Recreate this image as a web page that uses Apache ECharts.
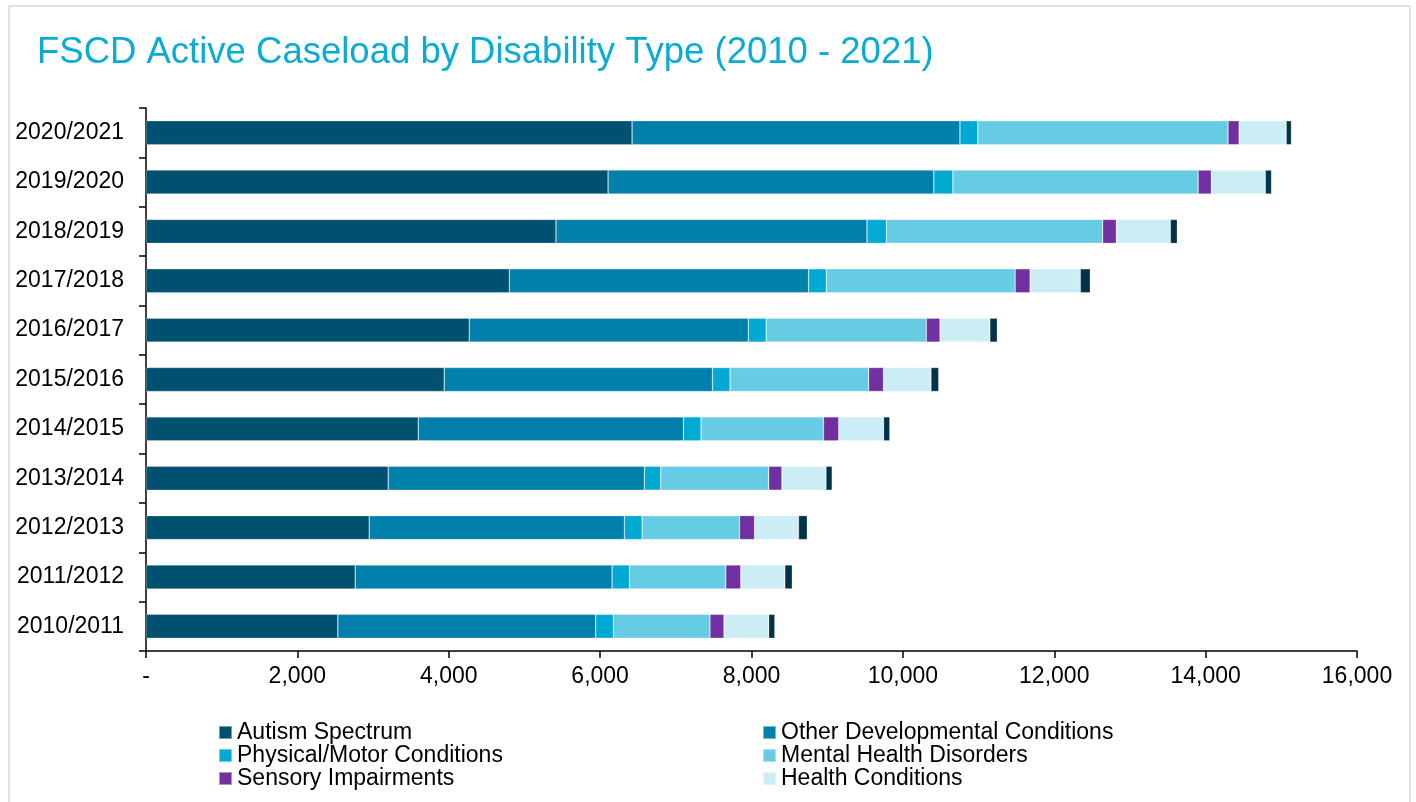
<!DOCTYPE html>
<html>
<head>
<meta charset="utf-8">
<script src="https://cdn.jsdelivr.net/npm/echarts@6/dist/echarts.min.js"></script>
<style>
html,body{margin:0;padding:0;background:#fff;}
#chart{width:1416px;height:802px;}
</style>
</head>
<body>
<div id="chart"></div>
<script>
const categories = ['2010/2011','2011/2012','2012/2013','2013/2014','2014/2015','2015/2016','2016/2017','2017/2018','2018/2019','2019/2020','2020/2021'];
const autism = [2535, 2764, 2949, 3200, 3597, 3940, 4271, 4800, 5417, 6105, 6422];
const otherDev = [3406, 3394, 3372, 3385, 3504, 3544, 3687, 3954, 4109, 4304, 4332];
const physical = [234, 229, 234, 216, 232, 233, 236, 235, 258, 252, 236];
const mental = [1276, 1273, 1286, 1426, 1618, 1831, 2116, 2494, 2856, 3240, 3306];
const sensory = [186, 199, 200, 175, 202, 197, 181, 198, 181, 175, 147];
const health = [590, 581, 580, 582, 592, 626, 658, 663, 713, 713, 621];
const unknown = [82, 99, 116, 82, 83, 103, 99, 132, 92, 82, 70];
const xTicks = [0, 2000, 4000, 6000, 8000, 10000, 12000, 14000, 16000];

const seriesDefs = [
  ['Autism Spectrum', autism, '#00506F'],
  ['Other Developmental Conditions', otherDev, '#0080AA'],
  ['Physical/Motor Conditions', physical, '#00AAD3'],
  ['Mental Health Disorders', mental, '#66CCE3'],
  ['Sensory Impairments', sensory, '#7030A0'],
  ['Health Conditions', health, '#CCEDF6'],
  ['Unknown', unknown, '#00324A']
];

const font = '"Liberation Sans", Arial, sans-serif';
const chart = echarts.init(document.getElementById('chart'));
chart.setOption({
  animation: false,
  backgroundColor: '#fff',
  textStyle: { fontFamily: font },
  title: {
    text: 'FSCD Active Caseload by Disability Type (2010 - 2021)',
    left: 37, top: 34, padding: 0,
    textStyle: { color: '#0AABD5', fontSize: 36.5, fontWeight: 'normal', fontFamily: font }
  },
  graphic: [{
    type: 'rect', shape: { x: 9, y: 6, width: 1401, height: 810 },
    style: { fill: 'none', stroke: '#d9d9d9', lineWidth: 1.5 }, silent: true, z: -1
  }],
  legend: [
    {
      orient: 'vertical', left: 218, top: 721, padding: 0, itemGap: 0,
      itemWidth: 13, itemHeight: 13, icon: 'rect',
      data: ['Autism Spectrum', 'Physical/Motor Conditions', 'Sensory Impairments'],
      textStyle: { fontSize: 23, lineHeight: 23, color: '#000', fontFamily: font }
    },
    {
      orient: 'vertical', left: 762, top: 721, padding: 0, itemGap: 0,
      itemWidth: 13, itemHeight: 13, icon: 'rect',
      data: ['Other Developmental Conditions', 'Mental Health Disorders', 'Health Conditions'],
      textStyle: { fontSize: 23, lineHeight: 23, color: '#000', fontFamily: font }
    }
  ],
  grid: { left: 146, right: 59, top: 108, bottom: 151, containLabel: false },
  xAxis: {
    type: 'value', min: xTicks[0], max: xTicks[xTicks.length - 1], interval: 2000,
    splitLine: { show: false },
    axisLine: { show: true, lineStyle: { color: '#000', width: 1.5 } },
    axisTick: { show: true, length: 7, lineStyle: { color: '#000', width: 1.5 } },
    axisLabel: {
      fontSize: 23, color: '#000', margin: 14, fontFamily: font,
      formatter: v => v === 0 ? '-' : v.toLocaleString('en-US')
    }
  },
  yAxis: {
    type: 'category', data: categories,
    axisLine: { show: true, lineStyle: { color: '#000', width: 1.5 } },
    axisTick: { show: true, length: 7, interval: 0, lineStyle: { color: '#000', width: 1.5 } },
    axisLabel: { fontSize: 23, color: '#000', margin: 22, fontFamily: font, interval: 0 }
  },
  series: seriesDefs.map(([name, data, color]) => ({
    name, type: 'bar', stack: 'total', data, barWidth: 24,
    itemStyle: { color, borderColor: 'rgba(255,255,255,0.45)', borderWidth: 0.6 },
    emphasis: { disabled: true }
  }))
});
</script>
</body>
</html>
